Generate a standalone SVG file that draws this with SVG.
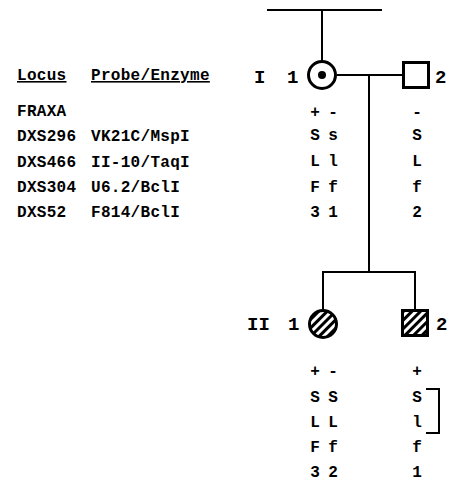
<svg xmlns="http://www.w3.org/2000/svg" width="450" height="483" viewBox="0 0 450 483">
<style>
text{font-family:"Liberation Mono","Courier New",monospace;font-weight:bold;fill:#000}
.t{font-size:16px;letter-spacing:0.3px}
.g{font-size:19px}
.a{font-size:16px;text-anchor:middle}
.ln{stroke:#000;stroke-width:2;fill:none}
.sym{stroke:#000;stroke-width:3}
</style>
<defs>
<pattern id="hatch" patternUnits="userSpaceOnUse" width="6" height="6" patternTransform="rotate(45)">
<rect width="6" height="6" fill="#fff"/>
<rect x="0" y="0" width="3" height="6" fill="#000"/>
</pattern>
</defs>
<rect width="450" height="483" fill="#fff"/>
<g id="connectors">
<line class="ln" x1="267" y1="10" x2="382" y2="10"/>
<line class="ln" x1="322" y1="10" x2="322" y2="61"/>
<line class="ln" x1="337" y1="75" x2="402" y2="75"/>
<line class="ln" x1="369" y1="75" x2="369" y2="272"/>
<line class="ln" x1="322" y1="272" x2="416" y2="272"/>
<line class="ln" x1="323" y1="271" x2="323" y2="310"/>
<line class="ln" x1="415" y1="271" x2="415" y2="310"/>
</g>
<g id="legend">
<text class="t" x="17" y="80" text-decoration="underline">Locus</text>
<text class="t" x="91" y="80" text-decoration="underline">Probe/Enzyme</text>
<text class="t" x="17" y="116">FRAXA</text>
<text class="t" x="17" y="141">DXS296</text>
<text class="t" x="91" y="141">VK21C/MspI</text>
<text class="t" x="17" y="167">DXS466</text>
<text class="t" x="91" y="167">II-10/TaqI</text>
<text class="t" x="17" y="192">DXS304</text>
<text class="t" x="91" y="192">U6.2/BclI</text>
<text class="t" x="17" y="217">DXS52</text>
<text class="t" x="91" y="217">F814/BclI</text>
</g>
<g id="I-1">
<text class="g" x="254" y="83">I</text>
<text class="g" x="287" y="83">1</text>
<circle class="sym" cx="322" cy="75" r="13.5" fill="#fff"/>
<circle cx="322" cy="75" r="4" fill="#000"/>
<text class="a" x="315" y="117">+</text><text class="a" x="333" y="117">-</text>
<text class="a" x="315" y="140">S</text><text class="a" x="333" y="140">s</text>
<text class="a" x="315" y="166">L</text><text class="a" x="333" y="166">l</text>
<text class="a" x="315" y="192">F</text><text class="a" x="333" y="192">f</text>
<text class="a" x="315" y="217">3</text><text class="a" x="333" y="217">1</text>
</g>
<g id="I-2">
<rect class="sym" x="403.5" y="62.5" width="25" height="25" fill="#fff"/>
<text class="g" x="435" y="83">2</text>
<text class="a" x="417" y="117">-</text>
<text class="a" x="417" y="140">S</text>
<text class="a" x="417" y="166">L</text>
<text class="a" x="417" y="192">f</text>
<text class="a" x="417" y="217">2</text>
</g>
<g id="II-1">
<text class="g" x="247" y="330">II</text>
<text class="g" x="288" y="330">1</text>
<circle class="sym" cx="323" cy="324" r="13.5" fill="url(#hatch)"/>
<text class="a" x="315" y="376">+</text><text class="a" x="333" y="376">-</text>
<text class="a" x="315" y="402">S</text><text class="a" x="333" y="402">S</text>
<text class="a" x="315" y="427">L</text><text class="a" x="333" y="427">L</text>
<text class="a" x="315" y="452">F</text><text class="a" x="333" y="452">f</text>
<text class="a" x="315" y="477">3</text><text class="a" x="333" y="477">2</text>
</g>
<g id="II-2">
<rect class="sym" x="402.5" y="310.5" width="25" height="25" fill="url(#hatch)"/>
<text class="g" x="436" y="330">2</text>
<text class="a" x="417" y="376">+</text>
<text class="a" x="417" y="402">S</text>
<text class="a" x="417" y="427">l</text>
<text class="a" x="417" y="452">f</text>
<text class="a" x="417" y="477">1</text>
<polyline class="ln" points="426,389 439,389 439,433 426,433"/>
</g>
</svg>
